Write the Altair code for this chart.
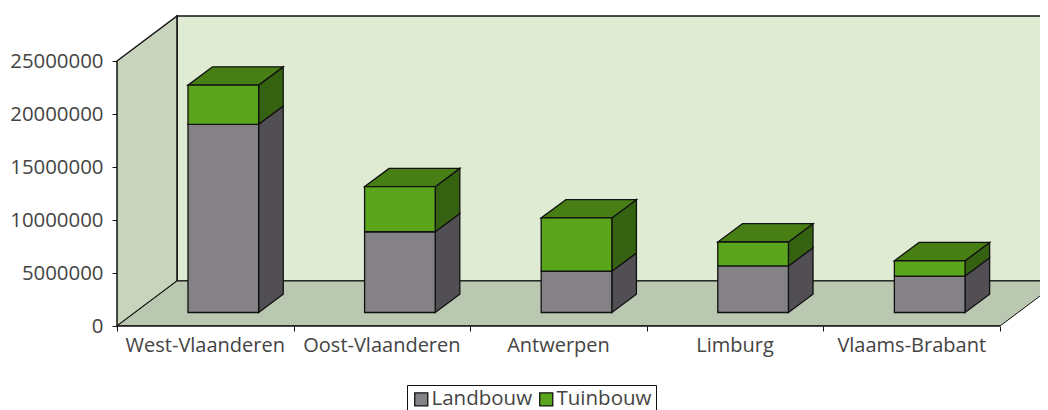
import altair as alt
import pandas as pd

regions = ["West-Vlaanderen", "Oost-Vlaanderen", "Antwerpen", "Limburg", "Vlaams-Brabant"]
landbouw = [17750000, 7620000, 3890000, 4390000, 3440000]
tuinbouw = [3700000, 4250000, 5030000, 2260000, 1440000]
series_names = ["Landbouw", "Tuinbouw"]
y_ticks = [0, 5000000, 10000000, 15000000, 20000000, 25000000]

FONT = "Open Sans"
TEXT = "#444444"
INK = "#111111"

# scales: one category band = 176.6 px, 25M = 265 px
BAND_PX = 176.6
VAL_PX = 25000000 / 265
W, H = 923, 316
x_scale = alt.Scale(domain=[0, W / BAND_PX], range=[0, W], nice=False, zero=False)
y_scale = alt.Scale(domain=[0, H * VAL_PX], range=[H, 0], nice=False, zero=False)

WALL_DX = 60 / BAND_PX
WALL_DY = 45 * VAL_PX
BAR_DX = 24.6 / BAND_PX
BAR_DY = 18.3 * VAL_PX
GAP_DX = 18 / BAND_PX
GAP_DY = 13.5 * VAL_PX
BAR_W = 0.4
TOP = 25000000
N = len(regions)

X = alt.X("x:Q", scale=x_scale, axis=alt.Axis(
    values=list(range(N + 1)), labels=False, title=None, domain=False, grid=False,
    tickSize=5, tickColor=INK, tickWidth=1))
Y = alt.Y("y:Q", scale=y_scale, stack=None, axis=alt.Axis(
    values=y_ticks, format="d", title=None, domain=False, grid=False, tickSize=5,
    tickColor=INK, tickWidth=1, labelFont=FONT, labelFontSize=20.4, labelColor=TEXT,
    labelPadding=9))
X0 = alt.X("x:Q", scale=x_scale)
Y0 = alt.Y("y:Q", scale=y_scale, stack=None)
X2 = alt.X2("x2:Q")
Y2 = alt.Y2("y2:Q")

# room
back = alt.Chart(pd.DataFrame([{"x": WALL_DX, "x2": N + WALL_DX, "y": WALL_DY, "y2": TOP + WALL_DY}])).mark_rect(
    fill="#DFEBD3", stroke=INK, strokeWidth=1.5, clip=True).encode(x=X, x2=X2, y=Y, y2=Y2)
left = alt.Chart(pd.DataFrame([
    {"x": 0, "y": 0, "y2": TOP},
    {"x": WALL_DX, "y": WALL_DY, "y2": TOP + WALL_DY},
])).mark_area(fill="#C9D4BC", stroke=INK, strokeWidth=1.5).encode(x=X0, y=Y0, y2=Y2)
floor = alt.Chart(pd.DataFrame([
    {"y": 0, "x": 0, "x2": N},
    {"y": WALL_DY, "x": WALL_DX, "x2": N + WALL_DX},
])).mark_area(orient="horizontal", fill="#BBC8B1", stroke=INK, strokeWidth=1, clip=True).encode(
    y=Y0, x=X0, x2=X2)
front_edge = alt.Chart(pd.DataFrame([{"x": 0, "x2": N, "y": 0}])).mark_rule(
    color=INK, strokeWidth=1.5).encode(x=X0, x2=X2, y=Y0)

# bars
fronts, sides, tops = [], {s: [] for s in series_names}, []
for i, r in enumerate(regions):
    x0 = i + 0.3 + GAP_DX
    x1 = x0 + BAR_W
    base = GAP_DY
    for s, v in zip(series_names, (landbouw[i], tuinbouw[i])):
        fronts.append({"series": s, "x": x0, "x2": x1, "y": base, "y2": base + v})
        sides[s].append({"key": r, "x": x1, "y": base, "y2": base + v})
        sides[s].append({"key": r, "x": x1 + BAR_DX, "y": base + BAR_DY, "y2": base + v + BAR_DY})
        base += v
    tops.append({"key": r, "y": base, "x": x0, "x2": x1})
    tops.append({"key": r, "y": base + BAR_DY, "x": x0 + BAR_DX, "x2": x1 + BAR_DX})

side_colors = {"Landbouw": "#514F54", "Tuinbouw": "#356210"}
side_layers = [
    alt.Chart(pd.DataFrame(sides[s])).mark_area(
        fill=side_colors[s], stroke=INK, strokeWidth=1.3).encode(x=X0, y=Y0, y2=Y2, detail="key:N")
    for s in series_names
]
top_layer = alt.Chart(pd.DataFrame(tops)).mark_area(
    orient="horizontal", fill="#477F14", stroke=INK, strokeWidth=1.3).encode(
    y=Y0, x=X0, x2=X2, detail="key:N")
front_layer = alt.Chart(pd.DataFrame(fronts)).mark_rect(stroke=INK, strokeWidth=1.3).encode(
    x=X0, x2=X2, y=Y0, y2=Y2,
    fill=alt.Fill("series:N",
                  scale=alt.Scale(domain=series_names, range=["#848286", "#5AA51C"]),
                  legend=alt.Legend(
                      title=None, orient="none", legendX=290, legendY=375, direction="horizontal",
                      columns=2, symbolType="square", symbolSize=170, symbolStrokeColor=INK,
                      symbolStrokeWidth=1.3, labelFont=FONT, labelFontSize=20.5, labelColor=TEXT,
                      labelOffset=0, columnPadding=3, padding=4, strokeColor=INK,
                      gridAlign="all", labelLimit=200, symbolOpacity=1)))

labels = alt.Chart(pd.DataFrame({"x": [i + 0.5 for i in range(N)], "y": [0] * N, "label": regions})).mark_text(
    font=FONT, fontSize=20, color=TEXT, dy=20, baseline="middle", align="center").encode(
    x=X0, y=Y0, text="label:N")

chart = alt.layer(back, left, floor, front_edge, *side_layers, top_layer, front_layer, labels).properties(
    width=W, height=H,
    autosize=alt.AutoSizeParams(type="none"),
    padding={"left": 109, "top": 2, "right": 0, "bottom": 84},
).configure_view(stroke=None)

chart.save("out.html", embed_options={"renderer": "svg", "actions": False})
